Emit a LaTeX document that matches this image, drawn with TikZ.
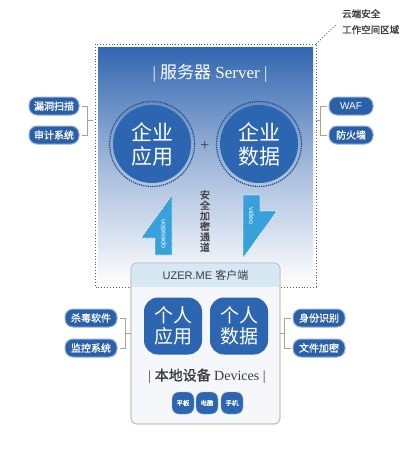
\documentclass[tikz,border=0pt]{standalone}
\usepackage{fontspec}
\setmainfont{Liberation Serif}
\newfontfamily\cjk{Noto Sans CJK SC}
\newfontfamily\cjkb{Noto Sans CJK SC}[FakeBold=1.2]
\newfontfamily\lsans{Liberation Sans}
\usetikzlibrary{shapes, calc, positioning}
\definecolor{srvblue}{RGB}{50,102,176}
\definecolor{circblue}{RGB}{44,102,176}
\definecolor{pillblue}{RGB}{42,96,168}
\definecolor{arrblue}{RGB}{56,160,218}
\definecolor{brkcol}{RGB}{176,160,140}
\definecolor{hdrblue}{RGB}{214,232,243}
\definecolor{boxgray}{RGB}{245,247,250}
\definecolor{txtgray}{RGB}{60,60,60}

\begin{document}
\begin{tikzpicture}[x=1pt,y=-1pt,
  pill/.style = {draw=pillblue!50, line width=1pt, fill=pillblue, rounded corners=8pt, minimum width=50pt, minimum height=18pt, inner sep=0pt, text=white, font=\cjkb\fontsize{10}{10}\selectfont},
  bigc/.style = {circle, fill=circblue, minimum size=78pt, inner sep=0pt, text=white, align=center, font=\cjk\fontsize{21}{24}\selectfont},
  ring/.style = {circle, draw=circblue!70!black, densely dotted, line width=1.2pt, minimum size=85pt},
  tile/.style = {fill=circblue, rounded corners=14pt, minimum width=58pt, minimum height=57pt, inner sep=0pt, text=white, align=center, font=\cjk\fontsize{19}{21}\selectfont},
  dev/.style = {fill=circblue, draw=pillblue!50, rounded corners=7pt, minimum width=22pt, minimum height=22pt, inner sep=0pt, text=white, font=\cjkb\fontsize{6.5}{7}\selectfont},
  brk/.style = {draw=brkcol, line width=0.8pt}]
\useasboundingbox (0,0) rectangle (402,450);

% server area
\shade[top color=srvblue, bottom color=white, middle color=srvblue!45] (98,47) rectangle (313,285);
\draw[gray!70!black, dotted, line width=0.9pt] (95,44) rectangle (316,287);
\coordinate (srvcorner) at (316,44);
\coordinate (zonept) at (337,24);
\draw[gray!70!black, dotted, line width=0.9pt] (srvcorner) -- (zonept);
\node[anchor=north west, align=left, inner sep=0pt, text=txtgray, font=\cjkb\fontsize{9.5}{16}\selectfont] (zone) at (342,9) {云端安全\\工作空间区域};

\node[text=white, font=\fontsize{17}{17}\selectfont] (srv) at (210,73) {| {\cjk 服务器} Server |};

\node[ring] (r1) at (152,144) {};
\node[ring] (r2) at (259,144) {};
\node[bigc] (c1) at (152,144) {企业\\应用};
\node[bigc] (c2) at (259,144) {企业\\数据};
\node[text=txtgray, font=\fontsize{16}{16}\selectfont] (plus) at (205,146) {+};

% tunnel
\draw[fill=arrblue, draw=white, densely dotted, line width=0.8pt] (172,195) -- (172,255) -- (155,255) -- (155,238) -- (141,238) -- cycle;
\draw[fill=arrblue, draw=white, densely dotted, line width=0.8pt] (243,195) -- (260,195) -- (260,211) -- (277,211) -- (243,258) -- cycle;
\node[rotate=90, text=white, font=\lsans\fontsize{7}{7}\selectfont] (op) at (163.5,234) {operation};
\node[rotate=-90, text=white, font=\lsans\fontsize{7}{7}\selectfont] (vid) at (251.5,216) {video};
\node[align=center, text=txtgray, inner sep=0pt, font=\cjkb\fontsize{10}{10.5}\selectfont] (tunnel) at (205,221) {安\\全\\加\\密\\通\\道};

% side pills, server
\node[pill] (lp1) at (54,106) {漏洞扫描};
\node[pill] (lp2) at (54,135) {审计系统};
\node[pill, minimum width=44pt, font=\lsans\fontsize{10}{10}\selectfont] (rp1) at (351,106) {WAF};
\node[pill, minimum width=44pt] (rp2) at (351,135) {防火墙};
\draw[brk] ([xshift=2pt]lp1.east) -- ++(6,0) |- ([xshift=2pt]lp2.east);
\draw[brk] ($(lp1.east)!0.5!(lp2.east)+(8,0)$) -- ++(5,0);
\draw[brk] ([xshift=-2pt]rp1.west) -- ++(-6,0) |- ([xshift=-2pt]rp2.west);
\draw[brk] ($(rp1.west)!0.5!(rp2.west)+(-8,0)$) -- ++(-5,0);

% client
\draw[gray!50, fill=boxgray, rounded corners=6pt, line width=0.8pt] (131,263) rectangle (280,424);
\begin{scope}
\clip[rounded corners=6pt] (131,263) rectangle (280,424);
\fill[hdrblue] (131,263) rectangle (280,287);
\end{scope}
\draw[gray!50, rounded corners=6pt, line width=0.8pt] (131,263) rectangle (280,424);
\node[text=txtgray, font=\lsans\fontsize{11}{11}\selectfont] (hdr) at (205.5,275) {UZER.ME {\cjk 客户端}};

\node[tile] (t1) at (173,326) {个人\\应用};
\node[tile] (t2) at (239,326) {个人\\数据};
\node[text=txtgray, font=\fontsize{14}{14}\selectfont] (devs) at (207,376) {| {\cjkb 本地设备} Devices |};
\node[dev] (d1) at (183,403) {平板};
\node[dev] (d2) at (207,403) {电脑};
\node[dev] (d3) at (232,403) {手机};

% side pills, client
\node[pill, minimum width=52pt] (lp3) at (91,318) {杀毒软件};
\node[pill, minimum width=52pt] (lp4) at (91,348) {监控系统};
\node[pill, minimum width=52pt] (rp3) at (319,318) {身份识别};
\node[pill, minimum width=52pt] (rp4) at (319,348) {文件加密};
\draw[brk] ([xshift=2pt]lp3.east) -- ++(6,0) |- ([xshift=2pt]lp4.east);
\draw[brk] ($(lp3.east)!0.5!(lp4.east)+(8,0)$) -- ++(5,0);
\draw[brk] ([xshift=-2pt]rp3.west) -- ++(-6,0) |- ([xshift=-2pt]rp4.west);
\draw[brk] ($(rp3.west)!0.5!(rp4.west)+(-8,0)$) -- ++(-5,0);
\end{tikzpicture}
\end{document}
